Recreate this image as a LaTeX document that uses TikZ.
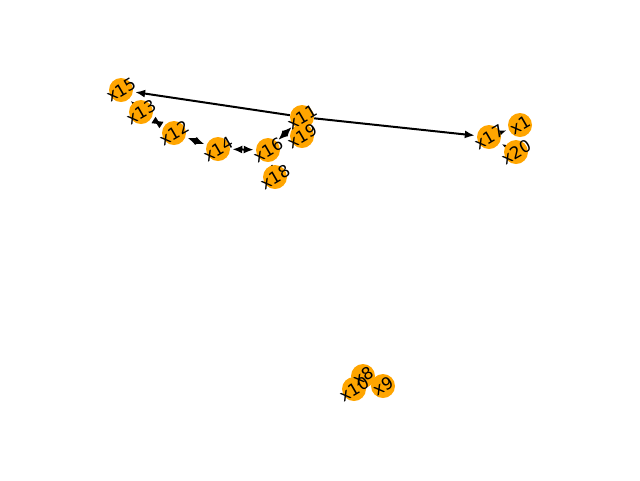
\documentclass[tikz,border=0pt]{standalone}
\usepackage{fontspec}
\setmainfont{DejaVu Sans}
\usetikzlibrary{arrows.meta,backgrounds}
\definecolor{nodeorange}{HTML}{FFA500}
\begin{document}
\begin{tikzpicture}[x=0.75pt,y=-0.75pt,
    vertex/.style={circle,fill=nodeorange,minimum size=18pt,inner sep=0pt},
    tag/.style={rotate=30,inner sep=0pt,font=\fontsize{12.5}{14}\selectfont},
    link/.style={-{Latex[length=7.5pt,width=6pt]},line width=1.5pt,shorten >=1.5pt},
    twoway/.style={{Latex[length=7.5pt,width=6pt]}-{Latex[length=7.5pt,width=6pt]},line width=1.5pt,shorten >=1.5pt,shorten <=1.5pt}]
        \useasboundingbox (0,0) rectangle (640,480);
        % nodes of the graph
        \foreach \n/\px/\py in {x1/520/125, x8/363/376, x9/383/386, x10/354/389,
                                x11/302/117, x12/174/133, x13/141/112, x14/218/149,
                                x15/121/90, x16/268/150, x17/489/137, x18/275/177,
                                x19/302/136, x20/516/152}
            \node[vertex] (\n) at (\px,\py) {};
        % labels on top of the nodes
        \foreach \n in {x1,x8,x9,x10,x11,x12,x13,x14,x15,x16,x17,x18,x19,x20}
            \node[tag] (l\n) at (\n) {\n};
        % edges
        \begin{scope}[on background layer]
        \draw[link] (x11) -- (x15);
        \draw[link] (x11) -- (x17);
        \draw[link] (x13) -- (x15);
        \draw[twoway] (x12) -- (x13);
        \draw[twoway] (x14) -- (x12);
        \draw[twoway] (x16) -- (x14);
        \draw[twoway] (x16) -- (x11);
        \draw[link] (x18) -- (x16);
        \draw[link] (x17) -- (x1);
        \draw[link] (x20) -- (x17);
        \end{scope}
\end{tikzpicture}
\end{document}
